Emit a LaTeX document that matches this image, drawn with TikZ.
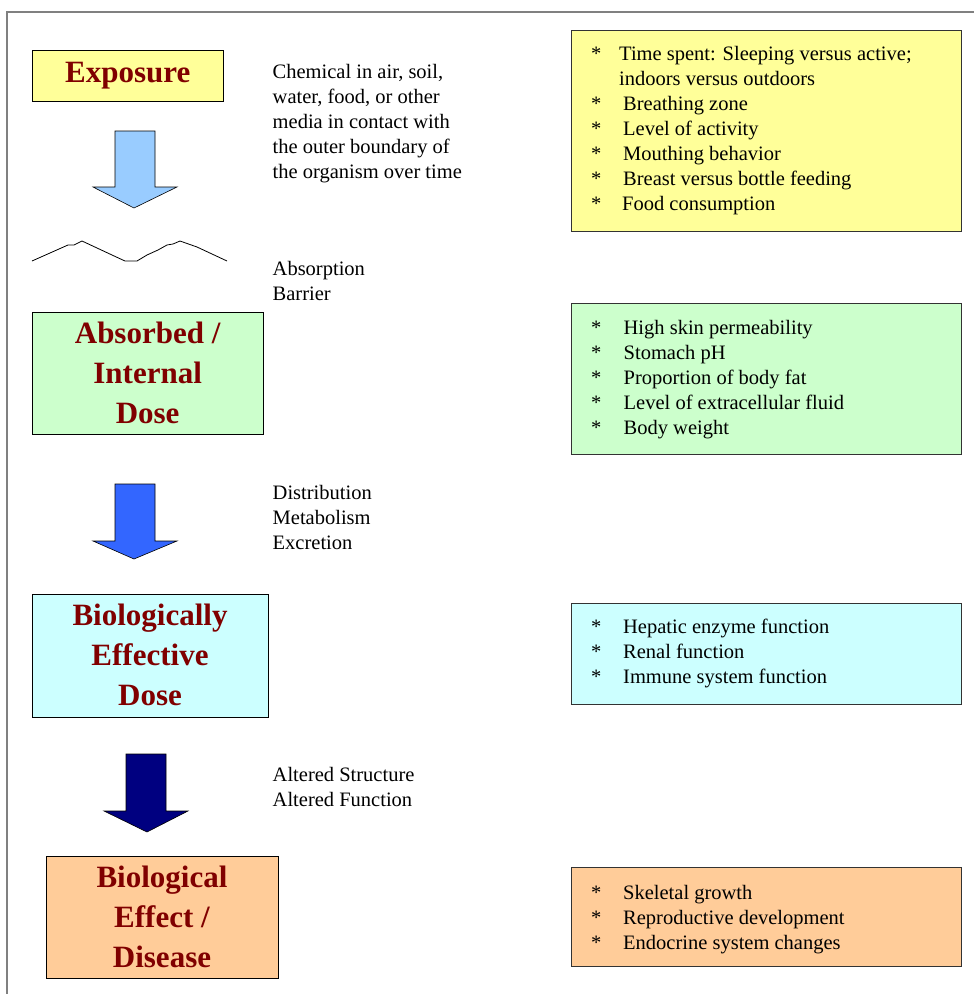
\documentclass[tikz,border=0pt]{standalone}
\usepackage{fontspec}
\setmainfont{Liberation Serif}
\definecolor{cExpo}{HTML}{FFFF99}
\definecolor{cAbs}{HTML}{CCFFCC}
\definecolor{cBio}{HTML}{CCFFFF}
\definecolor{cEff}{HTML}{FFCC99}
\definecolor{cArrA}{HTML}{99CCFF}
\definecolor{cArrB}{HTML}{3366FF}
\definecolor{cArrC}{HTML}{000080}
\definecolor{cTitle}{HTML}{800000}
\definecolor{cFrame}{HTML}{808080}
\newcommand{\firstR}{\rule{0pt}{16pt}}
\newcommand{\firstT}{\rule{0pt}{24pt}}
\newcommand{\bul}[1]{\makebox[#1][l]{*}}
\begin{document}
\begin{tikzpicture}[x=1pt,y=-1pt,
  stagebox/.style={draw=black, line width=0.8pt, rectangle, inner sep=0pt},
  factbox/.style={draw=black!80, line width=0.8pt, rectangle, inner sep=0pt, minimum width=390pt},
  titletext/.style={inner sep=0pt, anchor=north, align=center, text=cTitle,
     font=\fontsize{31}{40}\selectfont\bfseries},
  bodytext/.style={inner sep=0pt, anchor=north west, align=left,
     font=\fontsize{20.5}{25}\selectfont},
  blockarrow/.style={draw=black, line width=0.6pt, line join=miter}]
\useasboundingbox (0,0) rectangle (974,994);
% frame
\draw[cFrame, line width=1.5pt] (7,994) -- (7,12) -- (974,12);

% stage boxes
\node[stagebox, fill=cExpo, minimum width=191pt, minimum height=50.3pt] (expo) at (127.8,75.85) {};
\node[stagebox, fill=cAbs, minimum width=231.3pt, minimum height=122.3pt] (abs) at (147.65,373.15) {};
\node[stagebox, fill=cBio, minimum width=236pt, minimum height=123pt] (bio) at (150,655.5) {};
\node[stagebox, fill=cEff, minimum width=232pt, minimum height=122pt] (eff) at (162,917) {};

\node[titletext] (expoT) at (127.8,58.7) {\firstT Exposure};
\node[titletext] (absT) at (147.65,319.3) {\firstT Absorbed /\\Internal\\Dose};
\node[titletext] (bioT) at (150,601) {\firstT Biologically\\Effective\\Dose};
\node[titletext] (effT) at (162,863) {\firstT Biological\\Effect /\\Disease};

% block arrows
\draw[blockarrow, fill=cArrA] (115,131) -- (155,131) -- (155,187) -- (177,187) -- (134,208) -- (93,187) -- (115,187) -- cycle;
\draw[blockarrow, fill=cArrB] (115,484) -- (155,484) -- (155,541) -- (177,541) -- (134,559) -- (93,541) -- (115,541) -- cycle;
\draw[blockarrow, fill=cArrC] (126,754) -- (166,754) -- (166,811) -- (188,811) -- (147,832) -- (104,811) -- (126,811) -- cycle;

% absorption barrier
\draw[line width=0.8pt, line join=round] (32,261) -- (50,253) -- (68,245) -- (74,245) -- (82,241) -- (97,248) -- (112,255) -- (125,261) -- (137,261) -- (147,255) -- (158,250) -- (167,245) -- (173,244) -- (180,241) -- (197,247) -- (212,254) -- (227,261);

% middle texts
\node[bodytext] (t1) at (272.5,62.3) {\firstR Chemical in air, soil,\\water, food, or other\\media in contact with\\the outer boundary of\\the organism over time};
\node[bodytext] (t2) at (272.5,259) {\firstR Absorption\\Barrier};
\node[bodytext] (t3) at (272.5,483.3) {\firstR Distribution\\Metabolism\\Excretion};
\node[bodytext] (t4) at (272.5,765.7) {\firstR Altered Structure\\Altered Function};

% factor boxes
\node[factbox, fill=cExpo, minimum height=201.7pt] (f1) at (766,130.85) {};
\node[factbox, fill=cAbs, minimum height=151pt] (f2) at (766,378.8) {};
\node[factbox, fill=cBio, minimum height=101pt] (f3) at (766,653.8) {};
\node[factbox, fill=cEff, minimum height=99pt] (f4) at (766,916.5) {};

\node[bodytext] (f1T) at (591,44.5) {\firstR\bul{28pt}Time spent: Sleeping versus active;\\\hspace*{28pt}indoors versus outdoors\\\bul{32pt}Breathing zone\\\bul{32pt}Level of activity\\\bul{32pt}Mouthing behavior\\\bul{32pt}Breast versus bottle feeding\\\bul{31pt}Food consumption};
\node[bodytext] (f2T) at (591,318.3) {\firstR\bul{32.5pt}High skin permeability\\\bul{32.5pt}Stomach pH\\\bul{32.5pt}Proportion of body fat\\\bul{32.5pt}Level of extracellular fluid\\\bul{32.5pt}Body weight};
\node[bodytext] (f3T) at (591,617.3) {\firstR\bul{32pt}Hepatic enzyme function\\\bul{32pt}Renal function\\\bul{32pt}Immune system function};
\node[bodytext] (f4T) at (591,883) {\firstR\bul{32pt}Skeletal growth\\\bul{32pt}Reproductive development\\\bul{32pt}Endocrine system changes};
\end{tikzpicture}
\end{document}
